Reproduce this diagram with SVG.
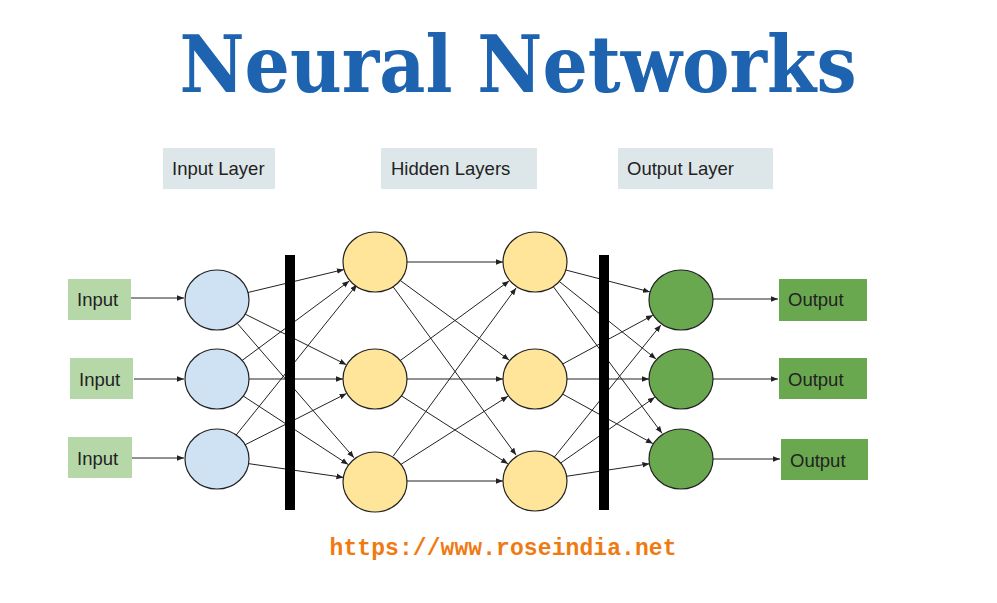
<svg xmlns="http://www.w3.org/2000/svg" width="997" height="603" viewBox="0 0 997 603">
<style>
.lbl{fill:#dde7ea}
.t{font-family:"Liberation Sans",Arial,sans-serif;font-size:18.5px;fill:#222}
.ib{fill:#b6d7a8}
.ob{fill:#6aa84f}
.n{stroke:#222;stroke-width:1.2}
.bl{fill:#cfe2f3}.yl{fill:#ffe599}.gr{fill:#6aa84f}
#edges line{stroke:#222;stroke-width:1;marker-end:url(#a)}
</style>
<defs><marker id="a" viewBox="0 0 10 10" refX="10" refY="5" markerWidth="7" markerHeight="7" orient="auto" markerUnits="userSpaceOnUse"><path d="M0,1 L10,5 L0,9z" fill="#222"/></marker></defs>
<rect width="997" height="603" fill="#fff"/>
<text x="518" y="92" text-anchor="middle" font-family="DejaVu Serif,serif" font-weight="bold" font-size="78" textLength="677" lengthAdjust="spacingAndGlyphs" fill="#1d63b0">Neural Networks</text>
<g id="lbl-input"><rect class="lbl" x="163" y="148" width="112" height="41"/><text class="t" x="172" y="175">Input Layer</text></g>
<g id="lbl-hidden"><rect class="lbl" x="381" y="148" width="156" height="41"/><text class="t" x="391" y="175">Hidden Layers</text></g>
<g id="lbl-output"><rect class="lbl" x="618" y="148" width="155" height="41"/><text class="t" x="627" y="175">Output Layer</text></g>
<g id="edges">
<line x1="131" y1="298" x2="184" y2="298"/><line x1="134" y1="379" x2="184" y2="379"/><line x1="132" y1="458" x2="184" y2="458"/>
<line x1="247.1" y1="292.7" x2="343.9" y2="269.5"/><line x1="244.7" y1="313.9" x2="346.4" y2="364.7"/><line x1="237.3" y1="323.4" x2="354" y2="457.8"/>
<line x1="241.9" y1="360.6" x2="349.3" y2="281"/><line x1="248" y1="379" x2="343" y2="379"/><line x1="243" y1="395.9" x2="348.2" y2="464.5"/>
<line x1="234.5" y1="437.1" x2="356.9" y2="284.6"/><line x1="244.7" y1="445" x2="346.5" y2="393.5"/><line x1="247.7" y1="463.5" x2="343.4" y2="477.4"/>
<line x1="406" y1="262" x2="503" y2="262"/><line x1="400" y1="280.3" x2="509.2" y2="360.1"/><line x1="393.3" y1="287" x2="516.1" y2="455.1"/>
<line x1="400" y1="360.7" x2="509.2" y2="280.9"/><line x1="406" y1="379" x2="503" y2="379"/><line x1="401.1" y1="395.7" x2="508" y2="463.8"/>
<line x1="393.3" y1="456" x2="516.1" y2="287.9"/><line x1="401.1" y1="464.3" x2="508" y2="396.2"/><line x1="406" y1="481" x2="503" y2="481"/>
<line x1="565" y1="269.8" x2="650" y2="291.9"/><line x1="559.2" y1="281.4" x2="656" y2="359"/><line x1="553.5" y1="286.9" x2="662" y2="433.3"/>
<line x1="562.3" y1="364.2" x2="652.9" y2="315.2"/><line x1="566" y1="379" x2="649" y2="379"/><line x1="562.2" y1="393.9" x2="652.9" y2="443.6"/>
<line x1="554.5" y1="456.9" x2="660.9" y2="324.9"/><line x1="560.4" y1="463.2" x2="654.8" y2="397.3"/><line x1="565.7" y1="476.4" x2="649.4" y2="463.8"/>
<line x1="713" y1="299" x2="778" y2="299"/><line x1="713" y1="379" x2="778" y2="379"/><line x1="713" y1="459" x2="780" y2="459"/>
</g>
<g id="bar1"><rect x="285" y="255" width="10" height="255" fill="#000"/></g>
<g id="bar2"><rect x="599" y="255" width="10" height="255" fill="#000"/></g>
<g id="in1"><rect class="ib" x="68" y="279" width="63" height="41"/><text class="t" x="77" y="306">Input</text></g>
<g id="in2"><rect class="ib" x="70" y="358" width="63" height="41"/><text class="t" x="79" y="386">Input</text></g>
<g id="in3"><rect class="ib" x="68" y="437" width="64" height="41"/><text class="t" x="77" y="465">Input</text></g>
<g id="i1"><ellipse class="n bl" cx="217" cy="300" rx="32" ry="30"/></g>
<g id="i2"><ellipse class="n bl" cx="217" cy="379" rx="32" ry="30"/></g>
<g id="i3"><ellipse class="n bl" cx="217" cy="459" rx="32" ry="30"/></g>
<g id="h1"><ellipse class="n yl" cx="375" cy="262" rx="32" ry="30"/></g>
<g id="h2"><ellipse class="n yl" cx="375" cy="379" rx="32" ry="30"/></g>
<g id="h3"><ellipse class="n yl" cx="375" cy="482" rx="32" ry="30"/></g>
<g id="h4"><ellipse class="n yl" cx="535" cy="262" rx="32" ry="30"/></g>
<g id="h5"><ellipse class="n yl" cx="535" cy="379" rx="32" ry="30"/></g>
<g id="h6"><ellipse class="n yl" cx="535" cy="481" rx="32" ry="30"/></g>
<g id="o1"><ellipse class="n gr" cx="681" cy="300" rx="32" ry="30"/></g>
<g id="o2"><ellipse class="n gr" cx="681" cy="379" rx="32" ry="30"/></g>
<g id="o3"><ellipse class="n gr" cx="681" cy="459" rx="32" ry="30"/></g>
<g id="out1"><rect class="ob" x="779" y="279" width="88" height="42"/><text class="t" x="788" y="306">Output</text></g>
<g id="out2"><rect class="ob" x="779" y="358" width="88" height="41"/><text class="t" x="788" y="386">Output</text></g>
<g id="out3"><rect class="ob" x="781" y="439" width="87" height="41"/><text class="t" x="790" y="467">Output</text></g>
<text x="503" y="555" text-anchor="middle" font-family="Liberation Mono,monospace" font-weight="bold" font-size="23" textLength="347" fill="#f07a12">https://www.roseindia.net</text>
</svg>
